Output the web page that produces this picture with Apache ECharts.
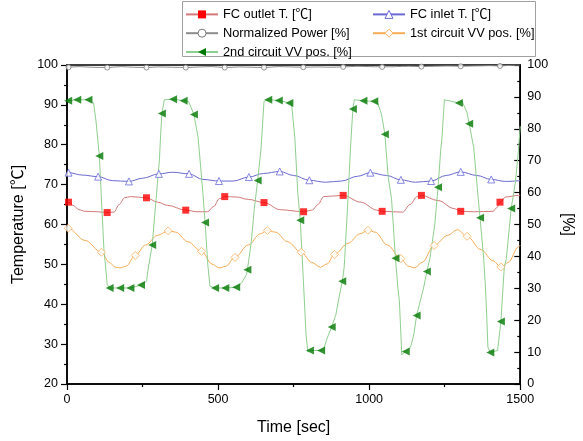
<!DOCTYPE html>
<html>
<head>
<meta charset="utf-8">
<script src="https://cdn.jsdelivr.net/npm/echarts@6/dist/echarts.min.js"></script>
<style>
  html, body { margin: 0; padding: 0; background: #fff; }
  #chart { width: 583px; height: 441px; }
</style>
</head>
<body>
<div id="chart"></div>
<script>
// Time axis [sec] and tick labels
const timeTicks = [0, 500, 1000, 1500];
const tempTicks = [20, 30, 40, 50, 60, 70, 80, 90, 100];
const pctTicks = [0, 10, 20, 30, 40, 50, 60, 70, 80, 90, 100];

// FC outlet temperature [°C]: trace points and marked samples
const outletLine = [[0,66.0],[20,64.8],[40,63.7],[60,63.3],[100,63.2],[155,63.1],[173,65.0],[190,66.7],[210,67.0],[300,65.6],[333,64.8],[430,63.2],[465,63.2],[485,64.5],[505,66.5],[560,66.9],[600,66.3],[706,63.7],[812,63.6],[830,65.0],[850,67.0],[972,65.6],[1026,63.6],[1111,63.1],[1135,65.0],[1159,67.0],[1228,66.0],[1281,64.0],[1346,63.2],[1410,63.3],[1422,64.2],[1452,66.9],[1494,67.3],[1500,67.3]];
const outletMarks = [[5,65.6],[133,63.0],[263,66.7],[393,63.6],[522,67.0],[652,65.5],[783,63.2],[914,67.3],[1043,63.3],[1173,67.3],[1303,63.3],[1433,65.6]];

// FC inlet temperature [°C]
const inletLine = [[0,73.0],[50,72.4],[150,71.0],[250,71.6],[350,73.1],[450,71.3],[550,70.9],[650,72.8],[750,72.3],[855,70.6],[908,70.9],[962,72.1],[1057,72.3],[1153,70.6],[1255,72.3],[1356,72.3],[1452,70.8],[1500,71.0]];
const inletMarks = [[5,73.0],[103,72.0],[205,70.8],[304,72.7],[404,72.7],[503,70.9],[602,71.9],[704,73.3],[802,71.1],[1004,73.0],[1105,71.2],[1205,70.9],[1303,73.2],[1404,71.3]];

// Normalized power [%]
const powerLine = [[0,99.4],[40,99.5],[80,99.3],[180,99.5],[220,99.3],[300,99.4],[350,99.3],[440,99.4],[480,99.5],[570,99.4],[610,99.3],[700,99.5],[740,99.4],[830,99.4],[870,99.3],[960,99.6],[1000,99.5],[1090,99.5],[1130,99.6],[1220,99.6],[1260,99.7],[1350,99.7],[1400,99.8],[1470,99.9],[1500,100]];
const powerMarks = [[5,99.3],[133,99.2],[263,99.2],[393,99.2],[522,99.2],[652,99.2],[782,99.3],[914,99.4],[1043,99.4],[1173,99.5],[1303,99.6],[1433,99.7]];

// 1st circuit valve position [%]
const vv1Line = [[0,48.9],[60,45.0],[140,38.1],[160,36.6],[175,36.4],[195,36.9],[260,43.6],[300,46.6],[360,47.6],[400,44.6],[480,37.6],[503,36.4],[525,36.9],[600,43.6],[640,47.1],[690,47.6],[730,44.6],[810,38.1],[839,36.6],[860,37.6],[930,44.1],[970,47.1],[1020,47.6],[1060,43.6],[1130,36.9],[1150,36.4],[1175,38.1],[1260,46.6],[1292,48.4],[1370,42.1],[1410,38.6],[1460,38.1],[1494,43.0],[1500,43.5]];
const vv1Marks = [[4,48.8],[114,41.3],[226,40.3],[335,48.0],[445,41.6],[556,39.7],[663,48.1],[775,41.3],[885,40.6],[996,48.2],[1105,39.3],[1215,43.4],[1324,46.3],[1436,36.7]];

// 2nd circuit valve position [%]
const vv2Line = [[0,88.8],[88,88.1],[96,82.4],[122,42.5],[133,31.2],[263,32.2],[269,36.3],[295,58.1],[306,70.5],[310,78.3],[322,89.1],[402,88.6],[434,77.2],[450,59.6],[466,37.4],[473,30.7],[578,31.7],[594,34.3],[610,44.6],[620,55.0],[642,73.6],[652,88.6],[743,88.1],[754,77.2],[764,59.6],[782,33.0],[791,15.6],[797,10.0],[850,11.0],[860,14.1],[890,21.8],[898,26.0],[917,36.3],[919,39.4],[930,58.1],[938,73.6],[951,89.1],[1028,88.1],[1041,84.5],[1063,64.8],[1074,58.1],[1095,30.1],[1100,26.0],[1108,9.2],[1137,11.5],[1148,15.6],[1169,26.0],[1180,30.1],[1201,39.4],[1217,49.8],[1237,73.6],[1241,77.2],[1249,89.1],[1308,88.6],[1324,85.0],[1346,74.1],[1361,58.1],[1379,39.4],[1385,30.1],[1388,23.9],[1393,11.5],[1425,10.5],[1447,36.3],[1454,39.4],[1484,63.3],[1494,73.1],[1500,80.8]];
const vv2Marks = [[4,88.8],[34,89.1],[71,89.1],[107,71.5],[141,30.1],[176,30.1],[210,30.1],[245,31.0],[282,43.6],[314,84.8],[351,89.3],[386,88.8],[420,84.5],[457,50.6],[490,30.1],[524,30.1],[560,30.3],[597,35.8],[631,63.8],[666,89.1],[701,88.9],[736,88.1],[772,51.3],[804,10.5],[841,10.5],[876,17.9],[911,32.2],[946,86.2],[981,88.8],[1017,88.6],[1052,78.3],[1087,39.4],[1121,10.2],[1157,21.5],[1191,35.3],[1228,61.7],[1297,88.1],[1331,81.6],[1367,52.1],[1401,9.9],[1436,19.6],[1470,55.0]];

// trace passes through every marked sample
function trace(line, marks) {
  return line.concat(marks).sort((a, b) => a[0] - b[0]);
}

const FONT = '"Liberation Sans", Arial, "Noto Sans CJK KR", sans-serif';

const defs = [
  { name: 'Normalized Power [%]', line: powerLine, marks: powerMarks, axis: 1,
    lineColor: '#8c8c8c', symbol: 'circle', size: 5, rotate: 0,
    item: { color: '#ffffff', borderColor: '#7a7a7a', borderWidth: 1 } },
  { name: '1st circuit VV pos. [%]', line: vv1Line, marks: vv1Marks, axis: 1,
    lineColor: '#f8ac55', symbol: 'diamond', size: 8, rotate: 0,
    item: { color: '#ffffff', borderColor: '#f9b05e', borderWidth: 1 } },
  { name: 'FC inlet T. [℃]', line: inletLine, marks: inletMarks, axis: 0,
    lineColor: '#6a6ad0', symbol: 'triangle', size: 7, rotate: 0,
    item: { color: '#ffffff', borderColor: '#6c6cdc', borderWidth: 1 } },
  { name: 'FC outlet T. [℃]', line: outletLine, marks: outletMarks, axis: 0,
    lineColor: '#d47878', symbol: 'rect', size: 7, rotate: 0,
    item: { color: '#ff0000' } },
  { name: '2nd circuit VV pos. [%]', line: vv2Line, marks: vv2Marks, axis: 1,
    lineColor: '#8fcf8f', symbol: 'triangle', size: 8, rotate: 90, smooth: false,
    item: { color: '#007800' } }
];

const series = [];
defs.forEach(d => {
  series.push({
    name: d.name, type: 'line', yAxisIndex: d.axis,
    data: trace(d.line, d.marks),
    smooth: d.smooth === false ? false : 0.35, smoothMonotone: 'x',
    showSymbol: false, symbol: d.symbol, symbolSize: d.size, symbolRotate: d.rotate,
    itemStyle: d.item,
    lineStyle: { color: d.lineColor, width: 1 },
    emphasis: { disabled: true }, silent: true, z: 2
  });
});
defs.forEach(d => {
  series.push({
    name: d.name, type: 'scatter', yAxisIndex: d.axis,
    data: d.marks, symbol: d.symbol, symbolSize: d.size, symbolRotate: d.rotate,
    itemStyle: d.item, emphasis: { disabled: true }, silent: true, z: 3
  });
});

const legendCommon = {
  orient: 'vertical', top: 8, padding: 0, itemGap: 6,
  itemWidth: 32, itemHeight: 10,
  itemStyle: { borderWidth: 1 },
  textStyle: { fontFamily: FONT, fontSize: 12.8, color: '#000' },
  selectedMode: false
};

const plainNumber = v => String(v);

const chart = echarts.init(document.getElementById('chart'), null, { renderer: 'canvas' });
chart.setOption({
  animation: false,
  backgroundColor: '#ffffff',
  textStyle: { fontFamily: FONT },
  grid: { left: 67, top: 65, width: 469, height: 322, show: true, borderColor: '#000', borderWidth: 1.5, backgroundColor: 'transparent' },
  graphic: [{
    type: 'rect', left: 182, top: 1, z: 0,
    shape: { width: 353, height: 55 },
    style: { fill: '#fff', stroke: '#a0a0a0', lineWidth: 1 }
  }],
  legend: [
    Object.assign({ left: 185, data: ['FC outlet T. [℃]', 'Normalized Power [%]', '2nd circuit VV pos. [%]'] }, legendCommon),
    Object.assign({ left: 372, data: ['FC inlet T. [℃]', '1st circuit VV pos. [%]'] }, legendCommon)
  ],
  xAxis: {
    type: 'value', min: timeTicks[0], max: timeTicks[timeTicks.length - 1], interval: 500,
    name: 'Time [sec]', nameLocation: 'middle', nameGap: 36,
    nameTextStyle: { fontSize: 16, color: '#000', fontFamily: FONT },
    axisLine: { onZero: false, lineStyle: { color: '#000', width: 1.5 } },
    axisTick: { inside: false, length: 6, lineStyle: { color: '#000', width: 1.2 } },
    minorTick: { show: true, splitNumber: 2, length: 3, lineStyle: { color: '#000', width: 1.2 } },
    axisLabel: { fontSize: 12.5, color: '#000', margin: 9, fontFamily: FONT, formatter: plainNumber },
    splitLine: { show: false }
  },
  yAxis: [{
    type: 'value', position: 'left', min: tempTicks[0], max: tempTicks[tempTicks.length - 1], interval: 10,
    name: 'Temperature [℃]', nameLocation: 'middle', nameGap: 36,
    nameTextStyle: { fontSize: 16, color: '#000', fontFamily: FONT },
    axisLine: { show: true, lineStyle: { color: '#000', width: 1.5 } },
    axisTick: { inside: false, length: 6, lineStyle: { color: '#000', width: 1.2 } },
    minorTick: { show: true, splitNumber: 2, length: 3, lineStyle: { color: '#000', width: 1.2 } },
    axisLabel: { fontSize: 12.5, color: '#000', margin: 9, fontFamily: FONT, formatter: plainNumber },
    splitLine: { show: false }
  }, {
    type: 'value', position: 'right', min: pctTicks[0], max: pctTicks[pctTicks.length - 1], interval: 10,
    name: '[%]', nameLocation: 'middle', nameGap: 32, nameRotate: -90,
    nameTextStyle: { fontSize: 16, color: '#000', fontFamily: FONT },
    axisLine: { show: true, lineStyle: { color: '#000', width: 1.5 } },
    axisTick: { inside: true, length: 6, lineStyle: { color: '#000', width: 1.2 } },
    minorTick: { show: true, splitNumber: 2, length: 3, lineStyle: { color: '#000', width: 1.2 } },
    axisLabel: { fontSize: 12.5, color: '#000', margin: 7, fontFamily: FONT, formatter: plainNumber },
    splitLine: { show: false }
  }],
  series: series
});
</script>
</body>
</html>
